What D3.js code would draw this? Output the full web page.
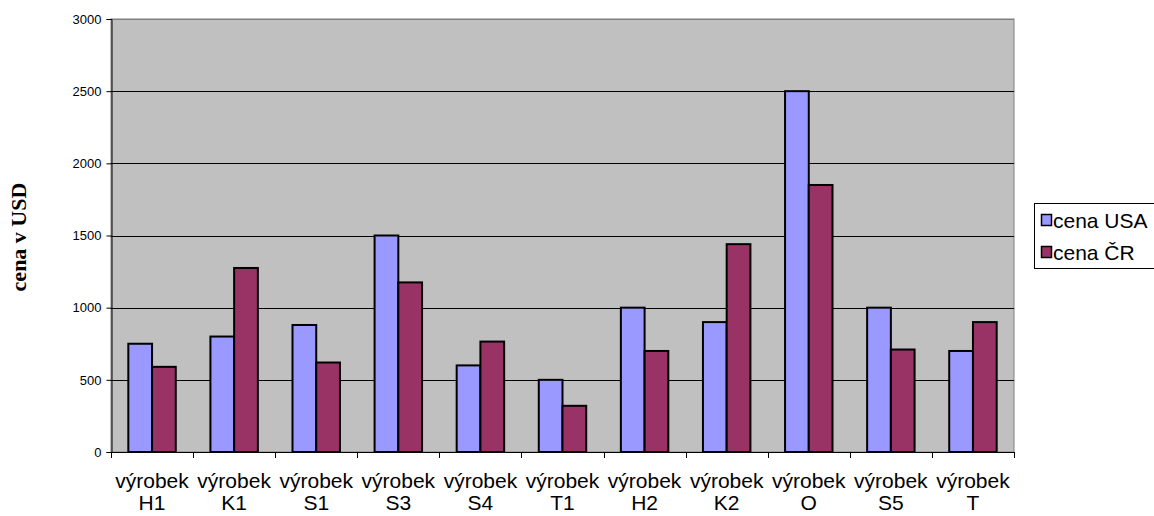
<!DOCTYPE html>
<html>
<head>
<meta charset="utf-8">
<script src="https://cdn.jsdelivr.net/npm/d3@7"></script>
<style>
  html, body { margin: 0; padding: 0; background: #fff; }
  svg { display: block; }
</style>
</head>
<body>
<svg id="chart" width="1154" height="516"></svg>
<script>
// Product categories (two-line labels) and prices for both markets
const categories = [
  ["výrobek", "H1"], ["výrobek", "K1"], ["výrobek", "S1"], ["výrobek", "S3"],
  ["výrobek", "S4"], ["výrobek", "T1"], ["výrobek", "H2"], ["výrobek", "K2"],
  ["výrobek", "O"], ["výrobek", "S5"], ["výrobek", "T"]
];
const seriesNames = ["cena USA", "cena ČR"];
const cenaUSA = [750, 800, 880, 1500, 600, 500, 1000, 900, 2500, 1000, 700];
const cenaCR  = [590, 1275, 620, 1175, 765, 320, 700, 1440, 1850, 710, 900];
const yTicks = [0, 500, 1000, 1500, 2000, 2500, 3000];
const yTitle = "cena v USD";
const colors = ["#9999FF", "#993366"];

const svg = d3.select("#chart");
const plot = { left: 111, right: 1014, top: 19, bottom: 452 };

const keys = categories.map((c, i) => i);
const x = d3.scaleBand().domain(keys).range([plot.left, plot.right]).paddingInner(0).paddingOuter(0);
const xInner = d3.scaleBand().domain([0, 1]).range([0, x.bandwidth()]).paddingOuter(0.73).paddingInner(0);
const y = d3.scaleLinear().domain([0, 3000]).range([plot.bottom, plot.top]);

// plot background
svg.append("rect")
  .attr("x", plot.left).attr("y", plot.top)
  .attr("width", plot.right - plot.left).attr("height", plot.bottom - plot.top)
  .attr("fill", "#C0C0C0")
  .attr("stroke", "#808080").attr("stroke-width", 1);

// horizontal gridlines
svg.append("g").selectAll("line").data(yTicks.filter(t => t > 0)).join("line")
  .attr("x1", plot.left).attr("x2", plot.right)
  .attr("y1", d => Math.round(y(d)) + 0.5).attr("y2", d => Math.round(y(d)) + 0.5)
  .attr("stroke", d => d === 3000 ? "#808080" : "#000").attr("stroke-width", 1);

// bars
const data = [cenaUSA, cenaCR];
const groups = svg.append("g").selectAll("g").data(keys).join("g")
  .attr("transform", d => `translate(${x(d)},0)`);
groups.selectAll("rect").data(i => data.map((s, k) => ({ k, v: s[i] }))).join("rect")
  .attr("x", d => xInner(d.k))
  .attr("width", xInner.bandwidth())
  .attr("y", d => y(d.v))
  .attr("height", d => y(0) - y(d.v))
  .attr("fill", d => colors[d.k])
  .attr("stroke", "#000").attr("stroke-width", 2);

// y axis
const yAxis = d3.axisLeft(y).tickValues(yTicks).tickFormat(d3.format("d")).tickSize(5).tickPadding(5);
const gy = svg.append("g").attr("transform", `translate(${plot.left + 0.5},0)`).call(yAxis);
gy.select(".domain").attr("stroke", "#000");
gy.selectAll(".tick line").attr("stroke", "#000");
gy.selectAll(".tick text").attr("font-family", "Liberation Sans, Arial, sans-serif")
  .attr("font-size", 13).attr("fill", "#000");

// x axis with ticks at category boundaries
svg.append("line")
  .attr("x1", plot.left).attr("x2", plot.right)
  .attr("y1", plot.bottom + 0.5).attr("y2", plot.bottom + 0.5)
  .attr("stroke", "#000");
const boundaries = keys.map(k => x(k)).concat([plot.right]);
svg.append("g").selectAll("line").data(boundaries).join("line")
  .attr("x1", d => Math.round(d) + 0.5).attr("x2", d => Math.round(d) + 0.5)
  .attr("y1", plot.bottom).attr("y2", plot.bottom + 6)
  .attr("stroke", "#000");

const xl = svg.append("g").selectAll("text").data(keys).join("text")
  .attr("x", d => x(d) + x.bandwidth() / 2)
  .attr("text-anchor", "middle")
  .attr("font-family", "Liberation Sans, Arial, sans-serif")
  .attr("font-size", 21).attr("fill", "#000");
xl.append("tspan").attr("x", d => x(d) + x.bandwidth() / 2).attr("y", 488).text(d => categories[d][0]);
xl.append("tspan").attr("x", d => x(d) + x.bandwidth() / 2).attr("y", 510).text(d => categories[d][1]);

// y axis title
svg.append("text")
  .attr("transform", "translate(26,237) rotate(-90)")
  .attr("text-anchor", "middle")
  .attr("font-family", "Liberation Serif, Times New Roman, serif")
  .attr("font-weight", "bold").attr("font-size", 22)
  .attr("fill", "#000")
  .text(yTitle);

// legend
const lg = svg.append("g").attr("transform", "translate(1034,203)");
lg.append("rect").attr("x", 0.5).attr("y", 0.5).attr("width", 130).attr("height", 65)
  .attr("fill", "#fff").attr("stroke", "#000");
seriesNames.forEach((name, k) => {
  const row = lg.append("g").attr("transform", `translate(0,${17 + k * 32})`);
  row.append("rect").attr("x", 7.5).attr("y", -5.5).attr("width", 10).attr("height", 11)
    .attr("fill", colors[k]).attr("stroke", "#000").attr("stroke-width", 1.5);
  row.append("text").attr("x", 19).attr("y", 7.5)
    .attr("font-family", "Liberation Sans, Arial, sans-serif")
    .attr("font-size", 21).attr("fill", "#000").text(name);
});
</script>
</body>
</html>
